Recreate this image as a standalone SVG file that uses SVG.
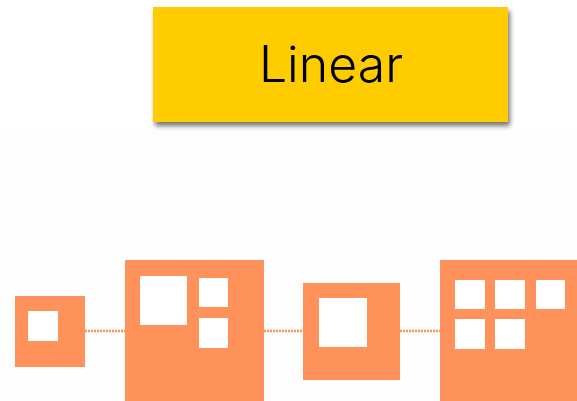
<svg xmlns="http://www.w3.org/2000/svg" width="577" height="401" viewBox="0 0 577 401">
  <defs>
    <filter id="shadow" x="-10%" y="-20%" width="120%" height="150%">
      <feGaussianBlur in="SourceAlpha" stdDeviation="2.5"/>
      <feOffset dx="2" dy="4" result="b"/>
      <feComponentTransfer><feFuncA type="linear" slope="0.55"/></feComponentTransfer>
      <feMerge><feMergeNode/><feMergeNode in="SourceGraphic"/></feMerge>
    </filter>
  </defs>
  <style>
    .box { fill: #FF915A; }
    .hole { fill: #FFFFFF; }
    .conn { stroke: #FF915A; stroke-width: 2.5; stroke-dasharray: 2 1; fill: none; }
    .title { font-family: Inter, "Liberation Sans", sans-serif; font-weight: 300; font-size: 50px; fill: #000; }
  </style>
  <rect x="0" y="0" width="577" height="401" fill="#FFFFFF"/>
  <rect x="0" y="129" width="577" height="272" fill="#FDFDFD"/>

  <g id="title">
    <rect x="153" y="7" width="355" height="115" fill="#FFCC00" filter="url(#shadow)"/>
    <text class="title" x="331" y="82" text-anchor="middle">Linear</text>
  </g>

  <g id="connectors">
    <line class="conn" x1="85" y1="331" x2="125" y2="331"/>
    <line class="conn" x1="264" y1="331" x2="303" y2="331"/>
    <line class="conn" x1="400" y1="331" x2="440" y2="331"/>
  </g>

  <g id="node1">
    <rect class="box" x="15" y="296" width="70" height="71"/>
    <rect class="hole" x="28" y="311" width="30" height="30"/>
  </g>

  <g id="node2">
    <rect class="box" x="125" y="260" width="139" height="141"/>
    <rect class="hole" x="140" y="276" width="47" height="49"/>
    <rect class="hole" x="199" y="278" width="29" height="29"/>
    <rect class="hole" x="199" y="318" width="29" height="30"/>
  </g>

  <g id="node3">
    <rect class="box" x="303" y="283" width="97" height="97"/>
    <rect class="hole" x="319" y="298" width="48" height="49"/>
  </g>

  <g id="node4">
    <rect class="box" x="440" y="260" width="137" height="141"/>
    <rect class="hole" x="455" y="280" width="30" height="29"/>
    <rect class="hole" x="495" y="280" width="30" height="29"/>
    <rect class="hole" x="536" y="280" width="29" height="29"/>
    <rect class="hole" x="455" y="319" width="30" height="30"/>
    <rect class="hole" x="495" y="319" width="30" height="30"/>
  </g>
</svg>
